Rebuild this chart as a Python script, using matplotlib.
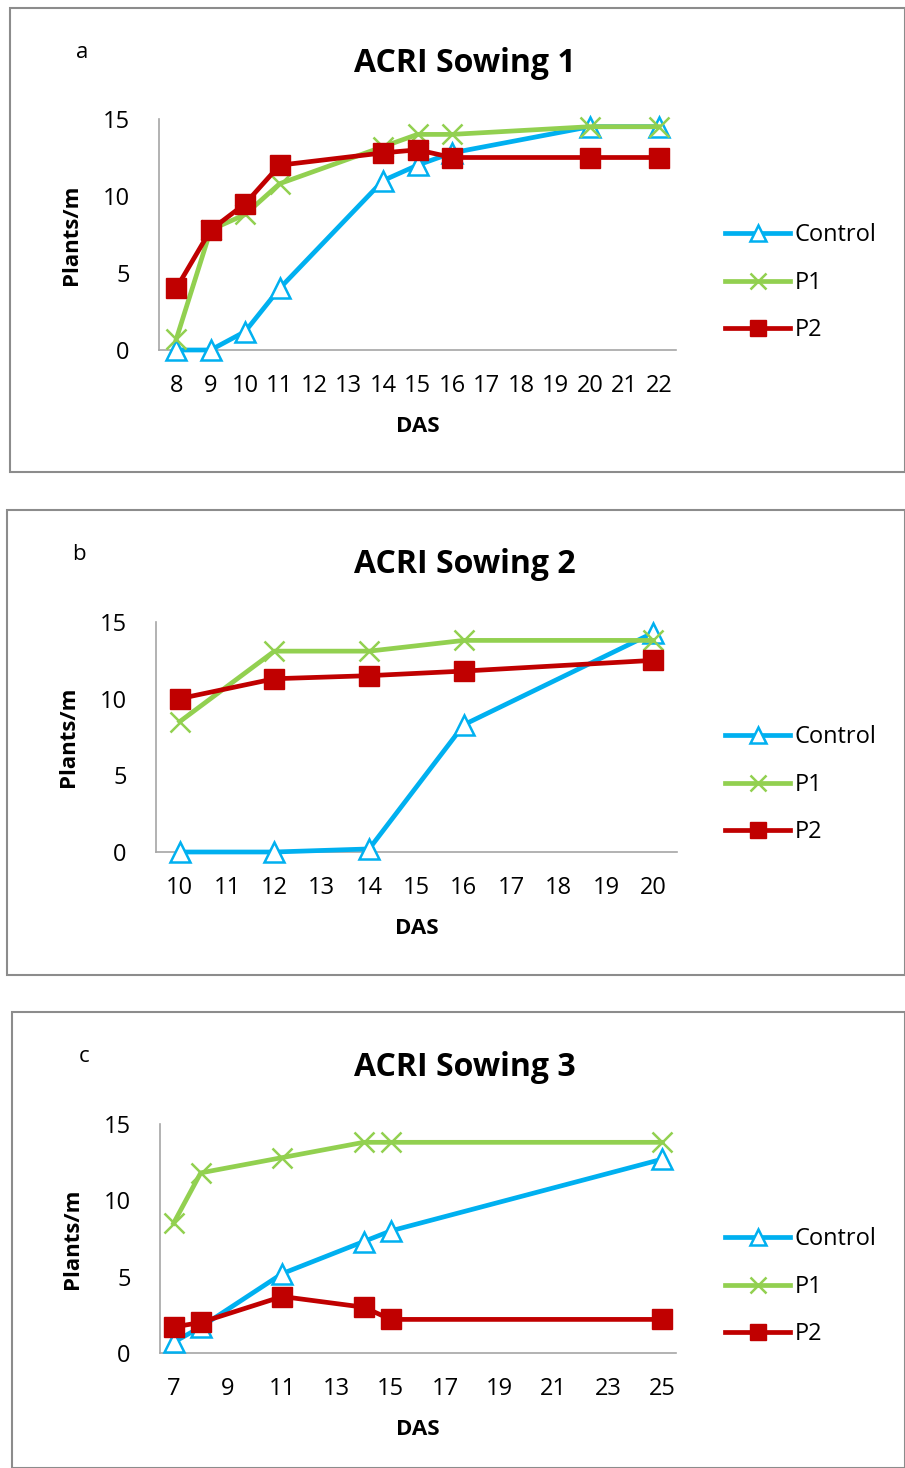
import matplotlib
matplotlib.use("Agg")
import matplotlib.pyplot as plt
from matplotlib.patches import Rectangle

plt.rcParams['font.family'] = ['Open Sans', 'DejaVu Sans']

W, H = 905, 1468

# panel a
das_a = [8, 9, 10, 11, 14, 15, 16, 20, 22]
control_a = [0, 0, 1.2, 4, 11, 12, 12.8, 14.5, 14.5]
p1_a = [0.7, 7.8, 8.8, 10.8, 13.2, 14, 14, 14.5, 14.5]
p2_a = [4, 7.8, 9.5, 12, 12.8, 13, 12.5, 12.5, 12.5]
ticks_a = list(range(8, 23))

# panel b
das_b = [10, 12, 14, 16, 20]
control_b = [0, 0, 0.2, 8.3, 14.3]
p1_b = [8.5, 13.1, 13.1, 13.8, 13.8]
p2_b = [10, 11.3, 11.5, 11.8, 12.5]
ticks_b = list(range(10, 21))

# panel c
das_c = [7, 8, 11, 14, 15, 25]
control_c = [0.7, 1.7, 5.2, 7.3, 8, 12.7]
p1_c = [8.5, 11.8, 12.8, 13.8, 13.8, 13.8]
p2_c = [1.7, 2, 3.7, 3, 2.2, 2.2]
ticks_c = list(range(7, 26, 2))

titles = ["ACRI Sowing 1", "ACRI Sowing 2", "ACRI Sowing 3"]
letters = ["a", "b", "c"]

CYAN = "#00b0f0"
GREEN = "#92d050"
RED = "#c00000"
GRAY = "#8c8c8c"


def fbox(left, top, right, bottom):
    return [left / W, 1 - bottom / H, (right - left) / W, (bottom - top) / H]


fig = plt.figure(figsize=(W / 100, H / 100), dpi=100)

# panel frames and axes boxes (pixels)
frames = [(10, 8, 905, 472), (7, 510, 905, 975), (12, 1012, 905, 1468)]
axboxes = [(159, 119, 676, 350), (156, 622, 677, 852), (160, 1124, 676, 1353)]
panels = [
    (das_a, control_a, p1_a, p2_a, ticks_a),
    (das_b, control_b, p1_b, p2_b, ticks_b),
    (das_c, control_c, p1_c, p2_c, ticks_c),
]

for i, (das, ctrl, p1, p2, ticks) in enumerate(panels):
    fl, ft, fr, fb = frames[i]
    fig.patches.append(Rectangle((fl / W, 1 - fb / H), (fr - fl) / W, (fb - ft) / H,
                                 transform=fig.transFigure, fill=False,
                                 edgecolor=GRAY, lw=1.5, clip_on=False))

    ax = fig.add_axes(fbox(*axboxes[i]))
    ax.plot(das, ctrl, color=CYAN, lw=3.4, marker="^", ms=14, mfc="white",
            mec=CYAN, mew=1.8, label="Control", clip_on=False, zorder=3)
    ax.plot(das, p1, color=GREEN, lw=3.4, marker="x", ms=14, mec=GREEN,
            mew=1.8, label="P1", clip_on=False, zorder=4)
    ax.plot(das, p2, color=RED, lw=3.4, marker="s", ms=14, mfc=RED,
            mec=RED, label="P2", clip_on=False, zorder=5)

    ax.set_ylim(0, 15)
    ax.set_yticks([0, 5, 10, 15])
    ax.set_xlim(ticks[0] - 0.5, ticks[-1] + 0.5)
    ax.set_xticks(ticks)
    ax.tick_params(length=0, labelsize=17)
    ax.tick_params(axis="x", pad=17)
    ax.tick_params(axis="y", pad=21)
    for s in ["top", "right"]:
        ax.spines[s].set_visible(False)
    for s in ["left", "bottom"]:
        ax.spines[s].set_color("#a6a6a6")
        ax.spines[s].set_linewidth(1.2)

    ax.set_xlabel("DAS", fontsize=16, fontweight="bold", labelpad=13)
    ax.set_ylabel("Plants/m", fontsize=16, fontweight="bold", labelpad=15)

    fig.text(465 / W, 1 - (ft + 55) / H, titles[i], ha="center", va="center",
             fontsize=23, fontweight="bold")
    fig.text((fl + 72) / W, 1 - (ft + 44) / H, letters[i], ha="center",
             va="center", fontsize=16)

    ax.legend(loc="upper left", bbox_to_anchor=(704 / W, 1 - (ft + 194) / H),
              bbox_transform=fig.transFigure, frameon=False, fontsize=17,
              handlelength=2.75, handletextpad=0.2, labelspacing=1.0,
              markerscale=0.8)

fig.savefig("out.png", dpi=100)
